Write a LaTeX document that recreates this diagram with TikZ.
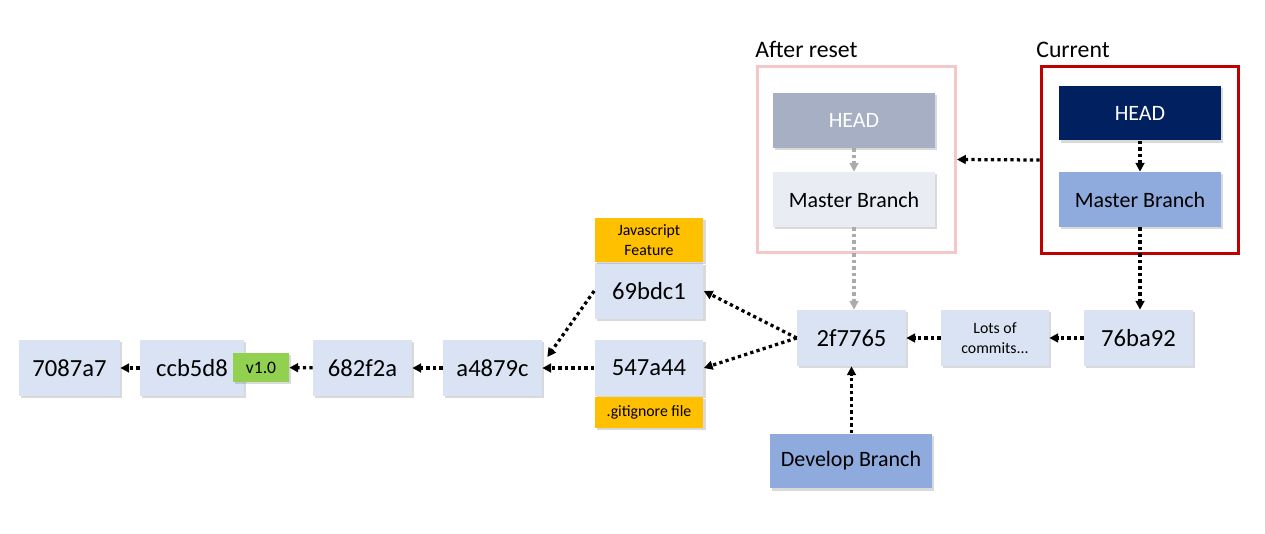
\documentclass[tikz,border=0pt]{standalone}
\usepackage{fontspec}
\setmainfont{Carlito}
\usetikzlibrary{arrows.meta,shadows}
\definecolor{commitblue}{HTML}{DAE3F3}
\definecolor{branchblue}{HTML}{8FAADC}
\definecolor{headnavy}{HTML}{002060}
\definecolor{tagorange}{HTML}{FFC000}
\definecolor{taggreen}{HTML}{92D050}
\definecolor{ghosthead}{HTML}{A6AFC3}
\definecolor{ghostmaster}{HTML}{E9EDF3}
\definecolor{ghostframe}{HTML}{F2C8C8}
\definecolor{curframe}{HTML}{C00000}
\definecolor{ghostline}{HTML}{ABABAB}

\begin{document}
\begin{tikzpicture}[x=0.02cm, y=-0.02cm,
	box/.style={inner sep=0pt, align=center, drop shadow={shadow xshift=1.3pt, shadow yshift=-1.3pt, opacity=0.3}},
	commit/.style={box, fill=commitblue, minimum width=2.18cm, minimum height=1.12cm, font=\fontsize{14}{16}\selectfont},
	branch/.style={box, minimum width=3.24cm, minimum height=1.1cm, font=\fontsize{12.5}{15}\selectfont},
	tag/.style={box, fill=tagorange, minimum width=2.18cm, font=\fontsize{9}{11.4}\selectfont},
	frame/.style={line width=1.7pt, minimum width=3.96cm, minimum height=3.74cm},
	title/.style={anchor=base west, inner sep=0pt, font=\fontsize{13.5}{16}\selectfont},
	link/.style={line width=1.85pt, dash pattern=on 1.85pt off 1.85pt, -{Triangle[length=5pt,width=5pt]}},
	ghostlink/.style={link, draw=ghostline}]
	\useasboundingbox (0,0) rectangle (1265,534);
	
	\node[frame, draw=ghostframe] (after) at (856.5,159.5) {};
	\node[frame, draw=curframe] (current) at (1140,160) {};
	\node[title] at (755,57) {After reset};
	\node[title] at (1036,57) {Current};
	
	\node[branch, fill=ghosthead, text=white] (ghead) at (854,120.5) {HEAD};
	\node[branch, fill=ghostmaster] (gmaster) at (854,199.5) {Master Branch};
	\node[branch, fill=headnavy, text=white] (head) at (1140,113) {HEAD};
	\node[branch, fill=branchblue] (master) at (1140,199.5) {Master Branch};
	
	\node[commit, minimum width=2.02cm] (c7087a7) at (69.5,368) {7087a7};
	\node[commit, minimum width=2.08cm] (cccb5d8) at (192,368) {ccb5d8};
	\node[box, fill=taggreen, minimum width=1.12cm, minimum height=0.58cm, font=\fontsize{10}{12}\selectfont] (v10) at (261,367.5) {v1.0};
	\node[commit, minimum width=1.98cm] (c682f2a) at (362.5,368) {682f2a};
	\node[commit, minimum width=1.98cm] (ca4879c) at (492.5,368) {a4879c};
	\node[commit] (c547a44) at (649,368) {547a44};
	\node[tag, minimum height=0.62cm] (gitignore) at (649,412.5) {.gitignore file};
	\node[commit] (c69bdc1) at (649,291) {69bdc1};
	\node[tag, minimum height=0.88cm] (jsfeature) at (649,240) {Javascript\\Feature};
	\node[commit] (c2f7765) at (851.5,338) {2f7765};
	\node[commit, minimum width=2.16cm, font=\fontsize{9}{11.4}\selectfont] (lots) at (995,338) {Lots of\\commits...};
	\node[commit] (c76ba92) at (1138.5,338) {76ba92};
	\node[branch, fill=branchblue] (develop) at (851,461) {Develop Branch};
	
	\draw[ghostlink] (ghead) -- (gmaster);
	\draw[ghostlink] (gmaster.south) -- (gmaster.south |- c2f7765.north);
	\draw[link] (head) -- (master);
	\draw[link] (current.west) -- (after.east);
	\draw[link] (master.south) -- (master.south |- c76ba92.north);
	\draw[link] (c76ba92) -- (lots);
	\draw[link] (lots) -- (c2f7765);
	\draw[link] (develop.north -| c2f7765) -- (c2f7765);
	\draw[link] (c2f7765.west) -- (c69bdc1.east);
	\draw[link] (c2f7765.west) -- (c547a44.east);
	\draw[link] (c69bdc1.west) -- ([shift={(5,-11)}]ca4879c.east);
	\draw[link] (c547a44) -- (ca4879c);
	\draw[link] (ca4879c) -- (c682f2a);
	\draw[link] (c682f2a) -- (v10);
	\draw[link] (cccb5d8) -- (c7087a7);
\end{tikzpicture}
\end{document}
